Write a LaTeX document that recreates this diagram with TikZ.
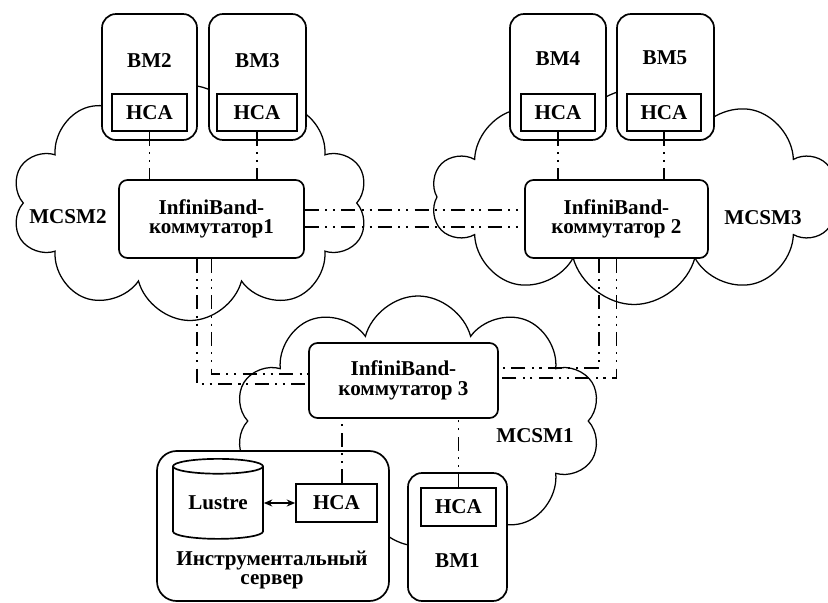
\documentclass[tikz,border=0pt]{standalone}
\usepackage{fontspec}
\setmainfont{Liberation Serif}
\usetikzlibrary{shapes.symbols,shapes.geometric,arrows.meta}
\newdimen\pxu
\pxu=0.025cm

\begin{document}
\begin{tikzpicture}[x=0.025cm,y=-0.025cm,
    every node/.style={font=\fontsize{15}{14}\selectfont\bfseries},
    cloudy/.style={cloud, cloud puffs=10, cloud ignores aspect, draw, fill=white, line width=0.9pt, inner sep=0pt},
    bmbox/.style={draw, fill=white, rounded corners=10pt, line width=1.2pt, inner sep=0pt},
    hcabox/.style={draw, fill=white, line width=1.2pt, inner sep=0pt},
    swbox/.style={draw, fill=white, rounded corners=6pt, line width=1.2pt, align=center, inner sep=0pt},
    link/.style={line width=1.3pt, dash pattern=on 10pt off 4.5pt on 1.5pt off 4pt on 1.5pt off 4.5pt}]
    \useasboundingbox (0,0) rectangle (828,603);
    \begin{scope}
    \clip (0,0) rectangle (828,603);
    % clouds
    \node[cloudy, minimum width=356*\pxu, minimum height=235*\pxu] (mcsm2c) at (190,203) {};
    \node[cloudy, minimum width=405*\pxu, minimum height=215*\pxu] (mcsm3c) at (634,197) {};
    \node[cloudy, minimum width=366*\pxu, minimum height=250*\pxu] (mcsm1c) at (418,421) {};
    \end{scope}
    \node at (68,217) {MCSM2};
    \node at (763,218) {MCSM3};
    \node at (535,436) {MCSM1};

    % MCSM2
    \node[bmbox, minimum width=95*\pxu, minimum height=126*\pxu] (bm2) at (149.5,77) {};
    \node[hcabox, minimum width=75*\pxu, minimum height=37*\pxu] (hca2) at (149.5,112.5) {HCA};
    \node at (149.5,61) {BM2};
    \node[bmbox, minimum width=97*\pxu, minimum height=126*\pxu] (bm3) at (257.5,77) {};
    \node[hcabox, minimum width=80*\pxu, minimum height=37*\pxu] (hca3) at (257,112.5) {HCA};
    \node at (257.5,61) {BM3};
    \node[swbox, minimum width=185*\pxu, minimum height=78*\pxu] (sw1) at (211.5,219) {InfiniBand-\\коммутатор1};

    % MCSM3
    \node[bmbox, minimum width=96*\pxu, minimum height=126*\pxu] (bm4) at (558,77) {};
    \node[hcabox, minimum width=74*\pxu, minimum height=37*\pxu] (hca4) at (558,112.5) {HCA};
    \node at (558,59) {BM4};
    \node[bmbox, minimum width=97*\pxu, minimum height=126*\pxu] (bm5) at (665.5,77) {};
    \node[hcabox, minimum width=74*\pxu, minimum height=37*\pxu] (hca5) at (664,112.5) {HCA};
    \node at (665,58) {BM5};
    \node[swbox, minimum width=183*\pxu, minimum height=78*\pxu] (sw2) at (616.5,219) {InfiniBand-\\коммутатор 2};

    % MCSM1
    \node[swbox, minimum width=189*\pxu, minimum height=75*\pxu] (sw3) at (403.5,380.5) {InfiniBand-\\коммутатор 3};
    \node[bmbox, rounded corners=14pt, minimum width=232*\pxu, minimum height=150*\pxu] (srv) at (273,526) {};
    \node[cylinder, shape border rotate=90, draw, fill=white, line width=1.2pt, aspect=0.25, inner sep=0pt,
          minimum width=90*\pxu, minimum height=80*\pxu] (lustre) at (218,503) {Lustre};
    \node[hcabox, minimum width=81*\pxu, minimum height=38*\pxu] (hcas) at (336.5,503) {HCA};
    \node[align=center] at (272,570) {Инструментальный\\сервер};
    \node[bmbox, minimum width=99*\pxu, minimum height=128*\pxu] (bm1) at (457.5,537) {};
    \node[hcabox, minimum width=75*\pxu, minimum height=38*\pxu] (hca1) at (458.5,507) {HCA};
    \node at (457.5,561) {BM1};

    \draw[{Stealth[length=6pt,width=5pt]}-{Stealth[length=6pt,width=5pt]}, line width=1.2pt] (lustre.east) -- (hcas.west);

    % links
    \draw[link] (hca2.south) -- (hca2.south |- sw1.north);
    \draw[link] (hca3.south) -- (hca3.south |- sw1.north);
    \draw[link] (hca4.south) -- (hca4.south |- sw2.north);
    \draw[link] (hca5.south) -- (hca5.south |- sw2.north);
    \draw[link] ([yshift=6.4pt]sw1.east) -- ([yshift=6.4pt]sw1.east -| sw2.west);
    \draw[link] ([yshift=-5.7pt]sw1.east) -- ([yshift=-5.7pt]sw1.east -| sw2.west);
    \draw[link] (sw1.south) |- ([yshift=4.6pt]sw3.west);
    \draw[link] ([xshift=-10.3pt]sw1.south) |- ([yshift=-2.5pt]sw3.west);
    \draw[link] ([xshift=-12.4pt]sw2.south) |- ([yshift=8.9pt]sw3.east);
    \draw[link] (sw2.south) |- ([yshift=1.8pt]sw3.east);
    \draw[link] ([xshift=4pt]hcas.north) -- ([xshift=4pt]hcas.north |- sw3.south);
    \draw[link] (hca1.north) -- (hca1.north |- sw3.south);
  \end{tikzpicture}
\end{document}
